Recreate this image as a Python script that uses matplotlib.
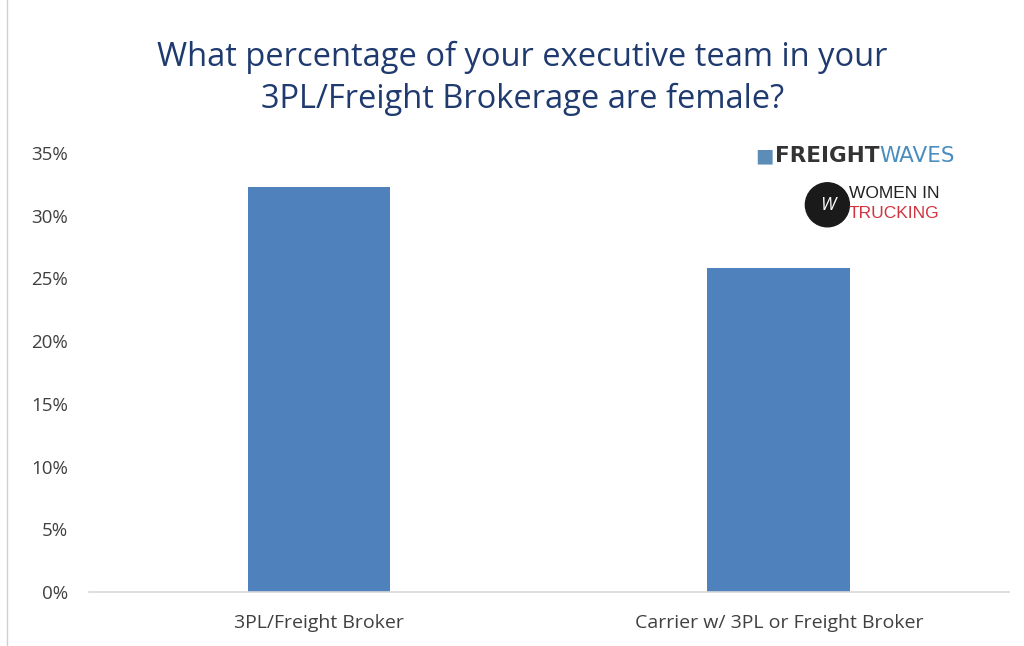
import matplotlib.pyplot as plt
from matplotlib.patches import Ellipse

# === data ===
categories = ["3PL/Freight Broker", "Carrier w/ 3PL or Freight Broker"]
values = [32.3, 25.8]
yticks = [0, 5, 10, 15, 20, 25, 30, 35]
title = "What percentage of your executive team in your\n3PL/Freight Brokerage are female?"

plt.rcParams['font.family'] = ['Open Sans', 'DejaVu Sans']

fig = plt.figure(figsize=(10.24, 6.46), dpi=100)
ax = fig.add_axes([0.087, 0.0836, 0.898, 0.6794])

x = range(len(categories))
ax.bar(x, values, width=0.31, color='#4F81BD')
ax.set_xlim(-0.5, 1.5)
ax.set_ylim(0, 35)
ax.set_yticks(yticks)
ax.set_yticklabels([f"{t}%" for t in yticks], fontsize=13.5, color='#404040')
ax.set_xticks(list(x))
ax.set_xticklabels(categories, fontsize=14, color='#404040')
ax.tick_params(length=0)
ax.tick_params(axis='y', pad=15)
ax.tick_params(axis='x', pad=16)
for s in ['top', 'right', 'left']:
    ax.spines[s].set_visible(False)
ax.spines['bottom'].set_color('#D9D9D9')
ax.spines['bottom'].set_linewidth(1.2)

fig.text(0.51, 0.878, title, ha='center', va='center', fontsize=23.5,
         color='#1F3A6E', linespacing=1.35)

# left frame line
fig.add_artist(plt.Line2D([0.007, 0.007], [0.0, 1.0], color='#D0D0D0', lw=1))

# logos as text
fig.text(0.738, 0.758, "\u25A0", fontsize=14, color='#5B8DB8', va='center')
fw = fig.text(0.757, 0.758, "FREIGHT", fontsize=15.5, fontweight='bold', color='#333333',
              va='center', family='DejaVu Sans')
ax.annotate("WAVES", xy=(1, 0.5), xycoords=fw, fontsize=15.5, color='#4A8DBF',
            va='center', family='DejaVu Sans', annotation_clip=False)
fig.add_artist(Ellipse((0.808, 0.683), 44 / 1024, 44 / 646,
                       transform=fig.transFigure, color='#1A1A1A'))
fig.text(0.808, 0.683, "W", fontsize=13, color='white', style='italic',
         ha='center', va='center')
fig.text(0.829, 0.701, "WOMEN IN", fontsize=12.5, color='#222222', va='center',
         family='Liberation Sans')
fig.text(0.829, 0.670, "TRUCKING", fontsize=12.5, color='#D2343F', va='center',
         family='Liberation Sans')

fig.savefig("out.png", dpi=100)
